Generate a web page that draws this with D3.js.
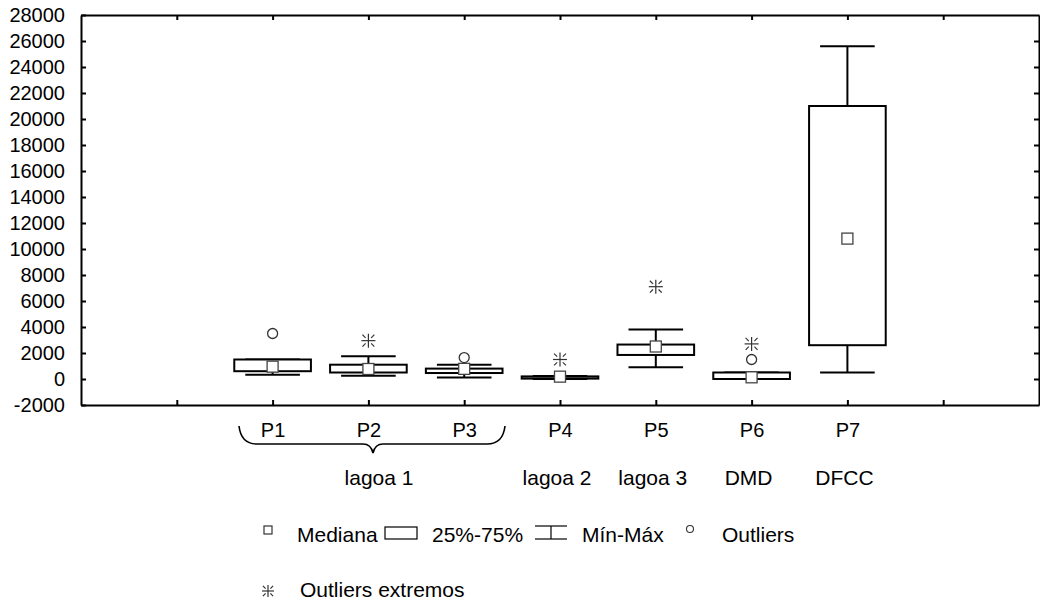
<!DOCTYPE html>
<html><head><meta charset="utf-8">
<script src="https://cdn.jsdelivr.net/npm/d3@7"></script>
<style>body{margin:0;background:#fff} text{font-family:Arial,"Liberation Sans",sans-serif;fill:#000}</style>
</head><body><svg id="c" width="1040" height="604"></svg>
<script>
const categories = ["P1","P2","P3","P4","P5","P6","P7"];
const groupLabels = ["lagoa 1","lagoa 2","lagoa 3","DMD","DFCC"];
const groupAnchors = ["P2","P4","P5","P6","P7"];
const minVals    = [330, 250, 120, 0, 900, 0, 500];
const q1Vals     = [600, 500, 460, 30, 1850, 0, 2600];
const medianVals = [950, 770, 780, 180, 2500, 130, 10800];
const q3Vals     = [1500, 1100, 800, 200, 2650, 500, 21000];
const maxVals    = [1500, 1750, 1100, 230, 3800, 500, 25600];
const outlierVals = [3500, null, 1650, null, null, 1500, null];
const extremeVals = [null, 2950, null, 1500, 7100, 2700, null];
const yTicks = d3.range(-2000, 28001, 2000);
const xTickSlots = [1,2,3,4,5,6,7,8,9];
const legendLabels = ["Mediana","25%-75%","Mín-Máx","Outliers","Outliers extremos"];

const svg = d3.select("#c");
const L = 81, R = 1039, T = 15, B = 405;
const x = d3.scaleLinear().domain([0,10]).range([L,R]);
const y = d3.scaleLinear().domain([-2000,28000]).range([B,T]);
const xc = c => x(categories.indexOf(c) + 2);
const FS = 20, FS2 = 21;

// axes
const gl = svg.append("g").attr("transform",`translate(${L},0)`)
  .call(d3.axisLeft(y).tickValues(yTicks).tickFormat(d=>d).tickSizeInner(-5).tickSizeOuter(0).tickPadding(16));
const gr = svg.append("g").attr("transform",`translate(${R},0)`)
  .call(d3.axisRight(y).tickValues(yTicks.slice(1,-1)).tickFormat("").tickSizeInner(-5).tickSizeOuter(0));
const gb = svg.append("g").attr("transform",`translate(0,${B})`)
  .call(d3.axisBottom(x).tickValues(xTickSlots).tickFormat(d => categories[d-2] || "").tickSizeInner(-5).tickSizeOuter(0).tickPadding(18));
const gt = svg.append("g").attr("transform",`translate(0,${T})`)
  .call(d3.axisTop(x).tickValues(xTickSlots).tickFormat("").tickSizeInner(-5).tickSizeOuter(0));
[gl,gr,gb,gt].forEach(g=>{
  g.selectAll("path.domain").attr("stroke","#000").attr("stroke-width",2);
  g.selectAll(".tick line").attr("stroke","#000").attr("stroke-width",2);
  g.selectAll(".tick text").attr("font-size",FS).attr("font-family","Arial, 'Liberation Sans', sans-serif").attr("fill","#000");
});

// boxes
const boxW = x(0.8)-x(0), capW = x(0.57)-x(0);
const g = svg.append("g").attr("stroke","#000").attr("stroke-width",2).attr("fill","none");
categories.forEach((c,i)=>{
  const cx = xc(c);
  if (maxVals[i] > q3Vals[i]) {
    g.append("line").attr("x1",cx).attr("x2",cx).attr("y1",y(q3Vals[i])).attr("y2",y(maxVals[i]));
  }
  g.append("line").attr("x1",cx-capW/2).attr("x2",cx+capW/2).attr("y1",y(maxVals[i])).attr("y2",y(maxVals[i]));
  if (minVals[i] < q1Vals[i]) {
    g.append("line").attr("x1",cx).attr("x2",cx).attr("y1",y(q1Vals[i])).attr("y2",y(minVals[i]));
  }
  g.append("line").attr("x1",cx-capW/2).attr("x2",cx+capW/2).attr("y1",y(minVals[i])).attr("y2",y(minVals[i]));
  g.append("rect").attr("x",cx-boxW/2).attr("width",boxW)
    .attr("y",y(q3Vals[i])).attr("height",Math.max(1,y(q1Vals[i])-y(q3Vals[i]))).attr("fill","#fff");
});
// medians
categories.forEach((c,i)=>{
  svg.append("rect").attr("x",xc(c)-5.5).attr("y",y(medianVals[i])-5.5).attr("width",11).attr("height",11)
    .attr("fill","#fff").attr("stroke","#444").attr("stroke-width",1.3);
});
// outliers
function star(sel, cx, cy, r){
  const gg = sel.append("g").attr("stroke","#333").attr("stroke-width",1.2);
  gg.append("line").attr("x1",cx).attr("x2",cx).attr("y1",cy-r).attr("y2",cy+r);
  gg.append("line").attr("x1",cx-r).attr("x2",cx+r).attr("y1",cy).attr("y2",cy);
  const a = r*0.4, b = r*0.85;
  [[1,1],[1,-1],[-1,1],[-1,-1]].forEach(([sx,sy])=>{
    gg.append("line").attr("x1",cx+sx*a).attr("y1",cy+sy*a).attr("x2",cx+sx*b).attr("y2",cy+sy*b);
  });
}
categories.forEach((c,i)=>{
  if (outlierVals[i]!=null) svg.append("circle").attr("cx",xc(c)).attr("cy",y(outlierVals[i])).attr("r",5)
     .attr("fill","#fff").attr("stroke","#333").attr("stroke-width",1.3);
  if (extremeVals[i]!=null) star(svg, xc(c), y(extremeVals[i]), 7);
});

// brace under P1-P3
const bx0 = 239, bx1 = 505, bm = 373, by0 = 426, by = 444, bt = 453;
svg.append("path").attr("fill","none").attr("stroke","#000").attr("stroke-width",1.6)
  .attr("d",`M${bx0},${by0} Q${bx0+2},${by} ${bx0+18},${by} L${bm-10},${by} Q${bm-2},${by} ${bm},${bt} Q${bm+2},${by} ${bm+10},${by} L${bx1-18},${by} Q${bx1-2},${by} ${bx1},${by0}`);

// group labels
groupLabels.forEach((t,i)=>{
  const cx = groupAnchors[i]==="P2" ? bm+6 : xc(groupAnchors[i]) - 3;
  svg.append("text").attr("x",cx).attr("y",485).attr("text-anchor","middle").attr("font-size",FS2).text(t);
});

// legend
const lg = svg.append("g");
const ly = 535;
lg.append("rect").attr("x",264).attr("y",ly-9).attr("width",8).attr("height",8).attr("fill","#fff").attr("stroke","#333").attr("stroke-width",1.2);
lg.append("text").attr("x",297).attr("y",ly+7).attr("font-size",FS2).text(legendLabels[0]);
lg.append("rect").attr("x",385).attr("y",ly-8).attr("width",32).attr("height",12).attr("fill","none").attr("stroke","#000").attr("stroke-width",1.2);
lg.append("text").attr("x",432).attr("y",ly+7).attr("font-size",FS2).text(legendLabels[1]);
const wg = lg.append("g").attr("stroke","#000").attr("stroke-width",1.2);
wg.append("line").attr("x1",535).attr("x2",567).attr("y1",ly-9).attr("y2",ly-9);
wg.append("line").attr("x1",535).attr("x2",567).attr("y1",ly+4).attr("y2",ly+4);
wg.append("line").attr("x1",551).attr("x2",551).attr("y1",ly-9).attr("y2",ly+4);
lg.append("text").attr("x",582).attr("y",ly+7).attr("font-size",FS2).text(legendLabels[2]);
lg.append("circle").attr("cx",690).attr("cy",ly-6).attr("r",3.5).attr("fill","#fff").attr("stroke","#333").attr("stroke-width",1.1);
lg.append("text").attr("x",722).attr("y",ly+7).attr("font-size",FS2).text(legendLabels[3]);
star(lg, 268, 591, 6);
lg.append("text").attr("x",300).attr("y",597).attr("font-size",FS2).text(legendLabels[4]);
</script></body></html>
